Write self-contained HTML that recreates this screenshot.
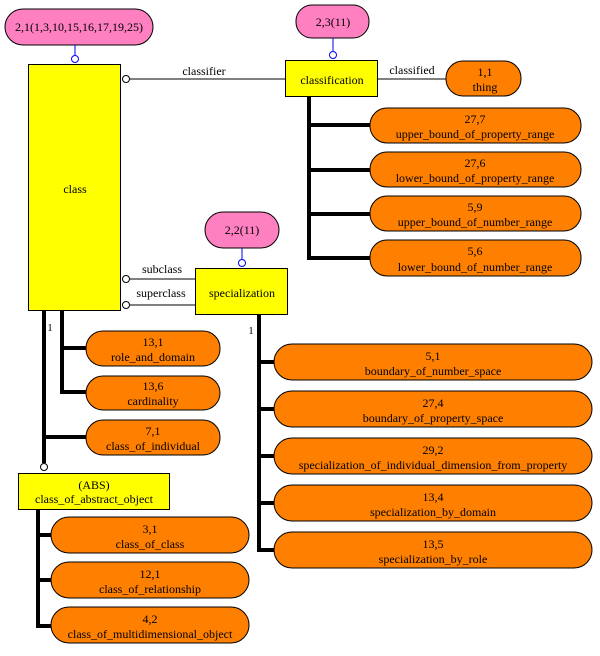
<!DOCTYPE html>
<html><head><meta charset="utf-8"><style>
html,body{margin:0;padding:0;background:#fff;font-family:"Liberation Serif","Times New Roman",serif}
svg{display:block}
text{font-family:"Liberation Serif","Times New Roman",serif;font-size:12px;fill:#000;text-anchor:middle}
.y{fill:#ffff00;stroke:#000;stroke-width:1}
.o{fill:#ff8000;stroke:#000;stroke-width:1}
.p{fill:#ff80c0;stroke:#000;stroke-width:1}
.t{stroke:#000;stroke-width:4;fill:none}
.l{stroke:#000;stroke-width:1;fill:none}
.c{fill:#fff;stroke:#000;stroke-width:1}
.b{stroke:#0000ff;stroke-width:1;fill:#fff}
</style></head><body>
<svg width="600" height="656" viewBox="0 0 600 656" xmlns="http://www.w3.org/2000/svg" font-family="Liberation Serif, serif" font-size="12">
<rect class="p" x="5" y="9" width="148" height="36" rx="18"/>
<text x="79" y="31">2,1(1,3,10,15,16,17,19,25)</text>
<line class="b" x1="75" y1="45" x2="75" y2="55"/><circle class="b" cx="75" cy="59" r="3.5"/>

<rect class="p" x="296" y="5" width="73" height="33" rx="16"/>
<text x="333" y="26">2,3(11)</text>
<line class="b" x1="333" y1="38" x2="333" y2="51"/><circle class="b" cx="333" cy="55" r="3.5"/>

<rect class="p" x="205" y="212" width="74" height="36" rx="18"/>
<text x="242" y="234">2,2(11)</text>
<line class="b" x1="242" y1="248" x2="242" y2="259"/><circle class="b" cx="242" cy="263" r="3.5"/>

<path class="t" d="M44 310 V463 M44 437 H86"/>
<path class="t" d="M62 310 V392 H86 M62 348 H86"/>
<path class="t" d="M38 509 V626 H51 M38 535 H51 M38 580 H51"/>
<path class="t" d="M259 314 V550 H274 M259 362 H274 M259 409 H274 M259 456 H274 M259 503 H274"/>
<path class="t" d="M309 96 V258 H370 M309 125 H370 M309 170 H370 M309 214 H370"/>
<text x="50" y="331" style="font-size:11px">1</text>
<text x="251" y="334" style="font-size:11px">1</text>

<line class="l" x1="129" y1="79" x2="285" y2="79"/>
<circle class="c" cx="126" cy="79" r="3.5"/>
<text x="204" y="75">classifier</text>
<line class="l" x1="377" y1="79" x2="446" y2="79"/>
<text x="412" y="74">classified</text>
<line class="l" x1="129" y1="279" x2="196" y2="279"/><circle class="c" cx="126" cy="279" r="3.5"/>
<text x="162" y="273">subclass</text>
<line class="l" x1="129" y1="305" x2="196" y2="305"/><circle class="c" cx="126" cy="305" r="3.5"/>
<text x="161" y="297">superclass</text>
<circle class="c" cx="44" cy="467" r="3.5"/>

<rect class="y" x="28.5" y="64.5" width="92" height="246"/>
<text x="75" y="193">class</text>
<rect class="y" x="285.5" y="60.5" width="92" height="36"/>
<text x="332" y="84">classification</text>
<rect class="y" x="195.5" y="268.5" width="92" height="46"/>
<text x="242" y="297">specialization</text>
<rect class="y" x="18.5" y="473.5" width="151" height="36"/>
<text x="94" y="489">(ABS)</text>
<text x="94" y="503">class_of_abstract_object</text>

<rect class="o" x="446" y="61" width="75" height="35" rx="17"/>
<text x="485" y="76">1,1</text><text x="485" y="91">thing</text>

<rect class="o" x="370" y="108" width="211" height="35" rx="17"/>
<text x="475" y="123">27,7</text><text x="475" y="138">upper_bound_of_property_range</text>
<rect class="o" x="370" y="152" width="211" height="35" rx="17"/>
<text x="475" y="167">27,6</text><text x="475" y="182">lower_bound_of_property_range</text>
<rect class="o" x="370" y="196" width="211" height="35" rx="17"/>
<text x="475" y="211">5,9</text><text x="475" y="226">upper_bound_of_number_range</text>
<rect class="o" x="370" y="240" width="211" height="36" rx="17"/>
<text x="475" y="255">5,6</text><text x="475" y="271">lower_bound_of_number_range</text>

<rect class="o" x="86" y="331" width="134" height="35" rx="17"/>
<text x="153" y="346">13,1</text><text x="153" y="361">role_and_domain</text>
<rect class="o" x="86" y="376" width="134" height="34" rx="17"/>
<text x="153" y="390">13,6</text><text x="153" y="405">cardinality</text>
<rect class="o" x="86" y="420" width="134" height="35" rx="17"/>
<text x="153" y="435">7,1</text><text x="153" y="450">class_of_individual</text>

<rect class="o" x="51" y="517" width="198" height="36" rx="18"/>
<text x="150" y="533">3,1</text><text x="150" y="548">class_of_class</text>
<rect class="o" x="51" y="562" width="198" height="36" rx="18"/>
<text x="150" y="578">12,1</text><text x="150" y="593">class_of_relationship</text>
<rect class="o" x="51" y="607" width="198" height="36" rx="18"/>
<text x="150" y="623">4,2</text><text x="150" y="638">class_of_multidimensional_object</text>

<rect class="o" x="274" y="344" width="318" height="36" rx="18"/>
<text x="433" y="360">5,1</text><text x="433" y="375">boundary_of_number_space</text>
<rect class="o" x="274" y="391" width="318" height="36" rx="18"/>
<text x="433" y="407">27,4</text><text x="433" y="422">boundary_of_property_space</text>
<rect class="o" x="274" y="438" width="318" height="36" rx="18"/>
<text x="433" y="454">29,2</text><text x="433" y="469">specialization_of_individual_dimension_from_property</text>
<rect class="o" x="274" y="485" width="318" height="36" rx="18"/>
<text x="433" y="501">13,4</text><text x="433" y="516">specialization_by_domain</text>
<rect class="o" x="274" y="532" width="318" height="36" rx="18"/>
<text x="433" y="548">13,5</text><text x="433" y="563">specialization_by_role</text>
</svg>
</body></html>
